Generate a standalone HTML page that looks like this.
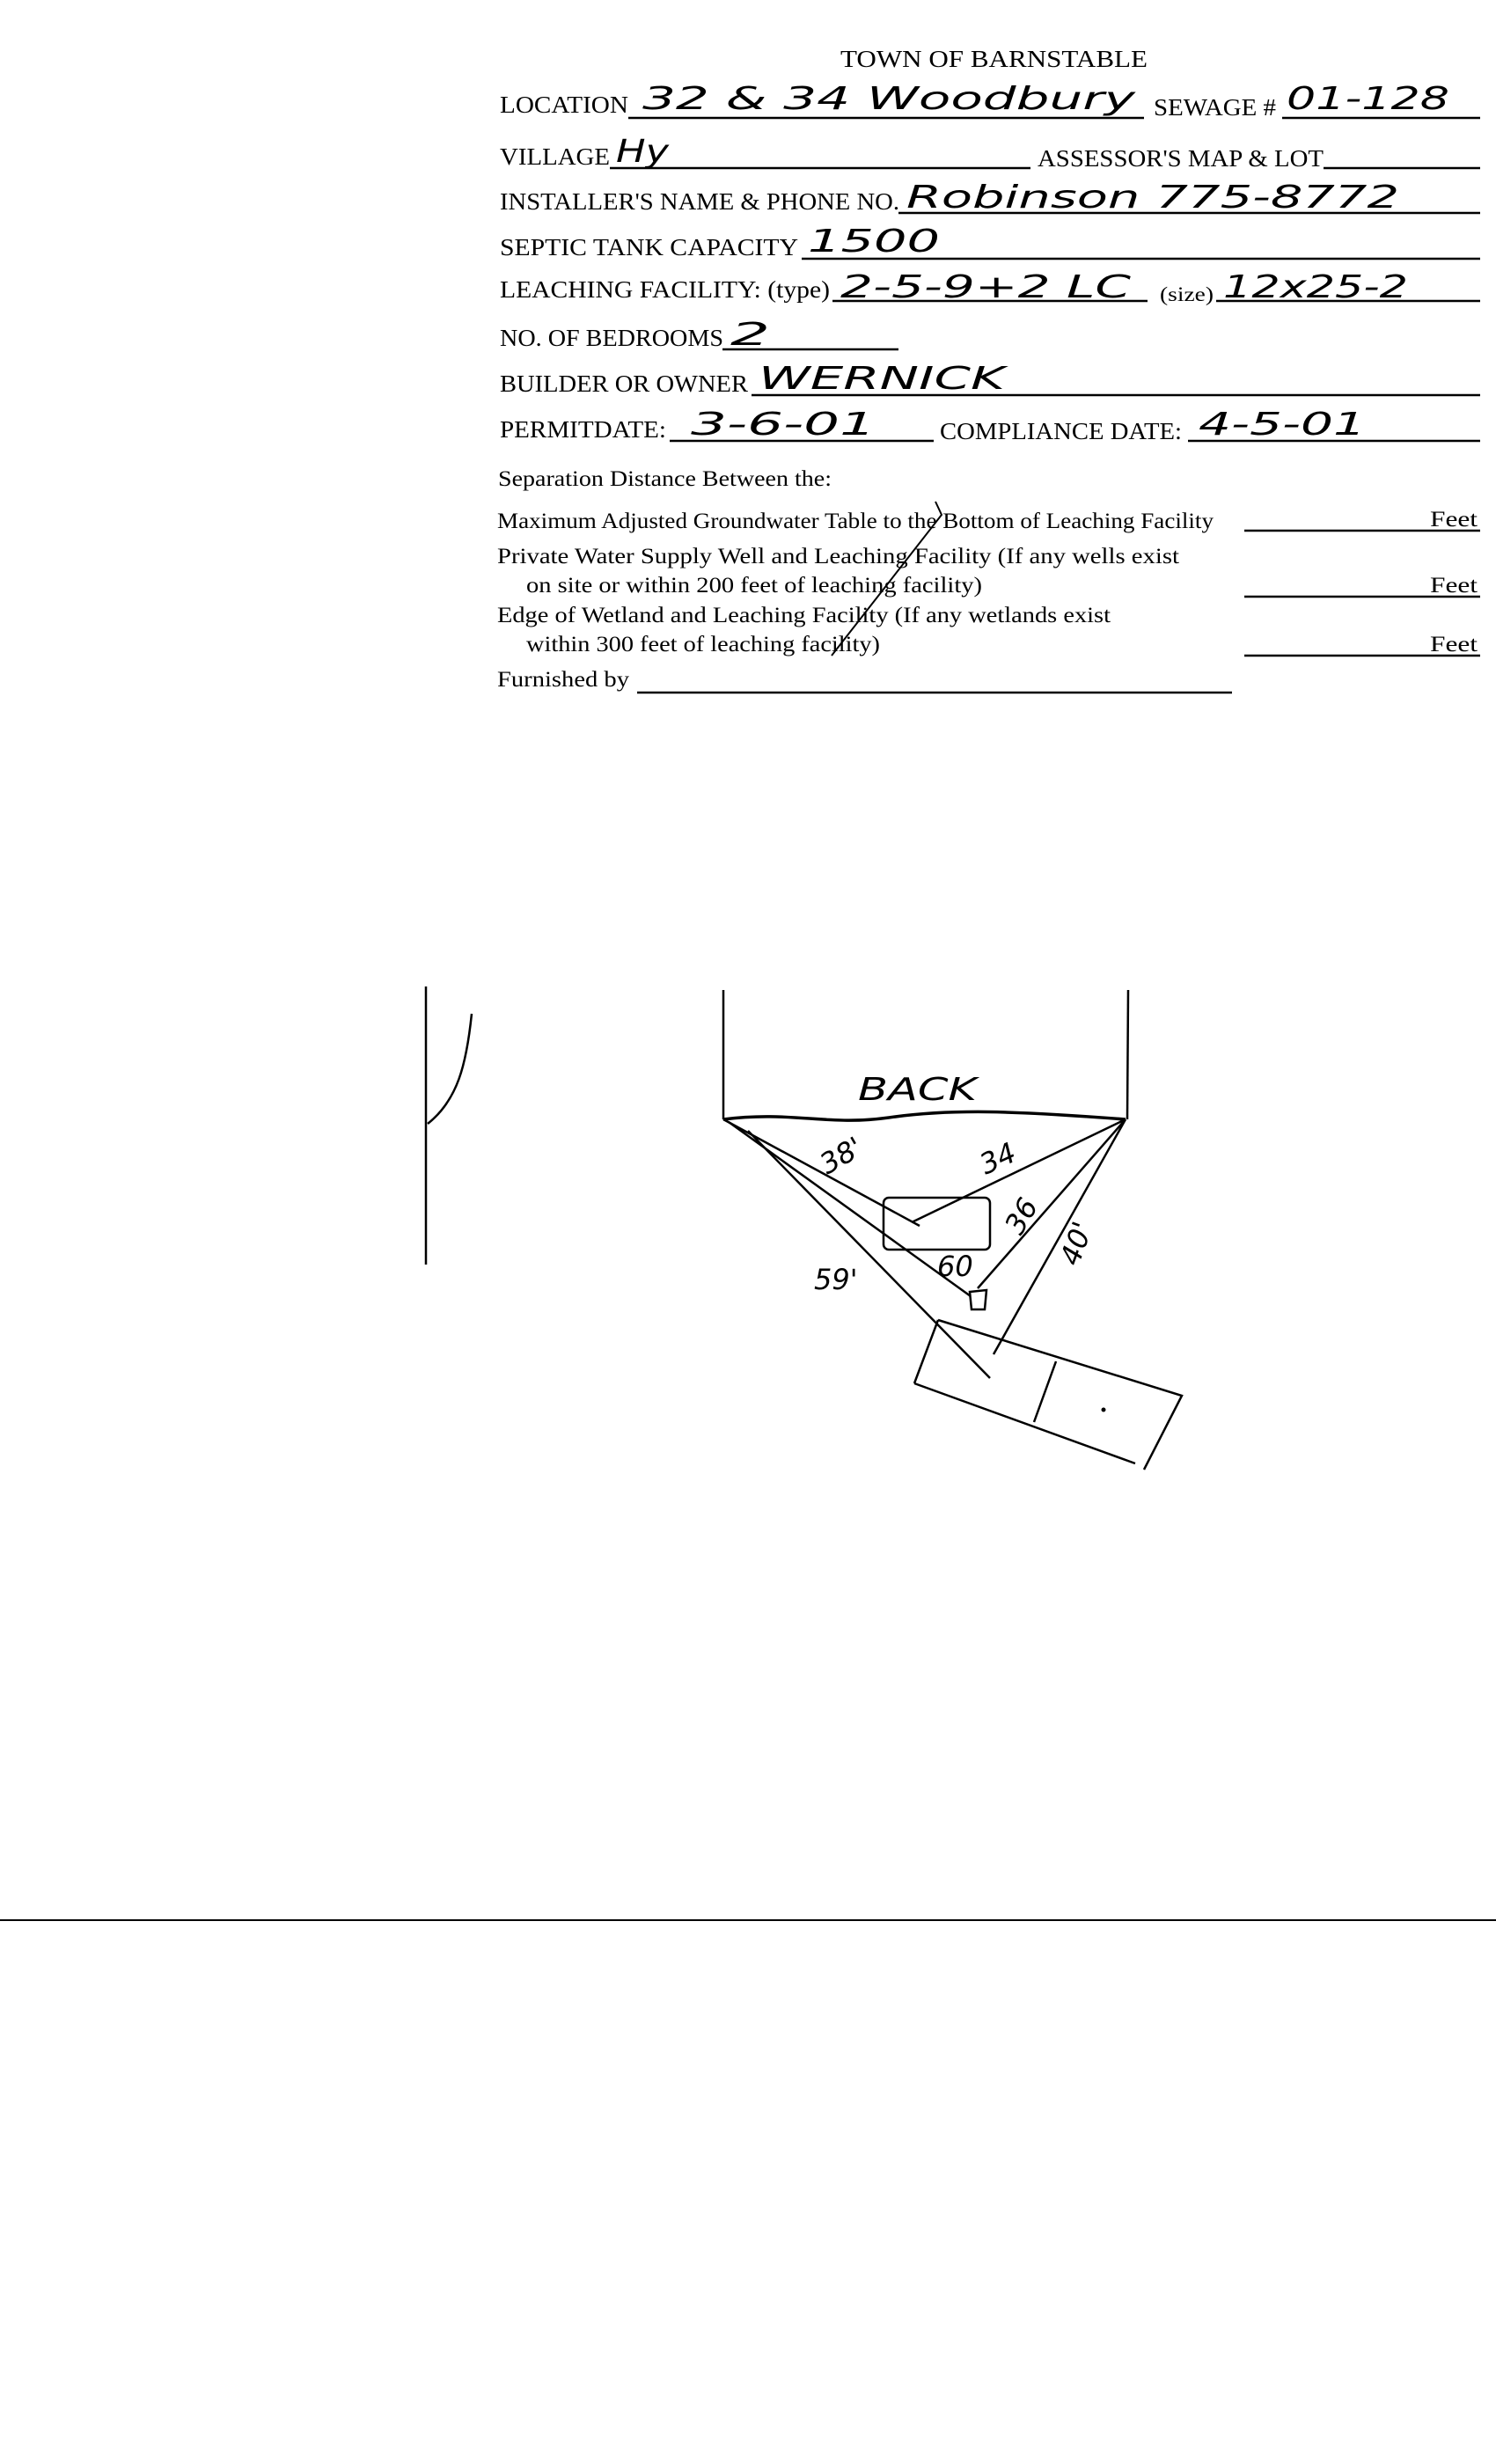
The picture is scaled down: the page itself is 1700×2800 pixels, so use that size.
<!DOCTYPE html>
<html><head><meta charset="utf-8"><style>
html,body{margin:0;padding:0;background:#fff;}
svg{display:block}
.t{font-family:"Liberation Serif",serif;font-size:27px;fill:#000}
.s{font-family:"Liberation Serif",serif;font-size:25px;fill:#000}
.h{font-family:"DejaVu Sans ExtraLight","DejaVu Sans",sans-serif;font-weight:200;font-style:italic;font-size:36px;fill:#000}
</style></head><body>
<svg width="1700" height="2800" viewBox="0 0 1700 2800" xmlns="http://www.w3.org/2000/svg">
<rect width="1700" height="2800" fill="#fff"/>
<g stroke="#000" stroke-width="2.5" fill="none">
<line x1="714" y1="134" x2="1300" y2="134"/><line x1="1457" y1="134" x2="1682" y2="134"/>
<line x1="693" y1="191" x2="1171" y2="191"/><line x1="1504" y1="191" x2="1682" y2="191"/>
<line x1="1021" y1="242" x2="1682" y2="242"/>
<line x1="911" y1="294" x2="1682" y2="294"/>
<line x1="946" y1="342" x2="1304" y2="342"/><line x1="1382" y1="342" x2="1682" y2="342"/>
<line x1="821" y1="397" x2="1021" y2="397"/>
<line x1="854" y1="449" x2="1682" y2="449"/>
<line x1="761" y1="501" x2="1061" y2="501"/><line x1="1350" y1="501" x2="1682" y2="501"/>
<line x1="1414" y1="603" x2="1682" y2="603"/><line x1="1414" y1="678" x2="1682" y2="678"/><line x1="1414" y1="745" x2="1682" y2="745"/>
<line x1="724" y1="787" x2="1400" y2="787"/>
<line x1="0" y1="2182" x2="1700" y2="2182" stroke-width="2"/>
</g>
<text class="t" x="955" y="76" textLength="349" lengthAdjust="spacingAndGlyphs">TOWN OF BARNSTABLE</text>
<text class="t" x="568" y="128" textLength="146" lengthAdjust="spacingAndGlyphs">LOCATION</text>
<text class="t" x="1311" y="131" textLength="139" lengthAdjust="spacingAndGlyphs">SEWAGE #</text>
<text class="t" x="568" y="187" textLength="125" lengthAdjust="spacingAndGlyphs">VILLAGE</text>
<text class="t" x="1179" y="189" textLength="325" lengthAdjust="spacingAndGlyphs">ASSESSOR'S MAP &amp; LOT</text>
<text class="t" x="568" y="238" textLength="454" lengthAdjust="spacingAndGlyphs">INSTALLER'S NAME &amp; PHONE NO.</text>
<text class="t" x="568" y="290" textLength="339" lengthAdjust="spacingAndGlyphs">SEPTIC TANK CAPACITY</text>
<text class="t" x="568" y="338" textLength="375" lengthAdjust="spacingAndGlyphs">LEACHING FACILITY: (type)</text>
<text class="t" x="1318" y="342" textLength="61" lengthAdjust="spacingAndGlyphs" style="font-size:23px">(size)</text>
<text class="t" x="568" y="393" textLength="254" lengthAdjust="spacingAndGlyphs">NO. OF BEDROOMS</text>
<text class="t" x="568" y="445" textLength="282" lengthAdjust="spacingAndGlyphs">BUILDER OR OWNER</text>
<text class="t" x="568" y="497" textLength="189" lengthAdjust="spacingAndGlyphs">PERMITDATE:</text>
<text class="t" x="1068" y="499" textLength="275" lengthAdjust="spacingAndGlyphs">COMPLIANCE DATE:</text>
<text class="s" x="566" y="552" textLength="379" lengthAdjust="spacingAndGlyphs">Separation Distance Between the:</text>
<text class="s" x="565" y="600" textLength="814" lengthAdjust="spacingAndGlyphs">Maximum Adjusted Groundwater Table to the Bottom of Leaching Facility</text>
<text class="s" x="1625" y="598" textLength="54" lengthAdjust="spacingAndGlyphs">Feet</text>
<text class="s" x="565" y="640" textLength="775" lengthAdjust="spacingAndGlyphs">Private Water Supply Well and Leaching Facility  (If any wells exist</text>
<text class="s" x="598" y="673" textLength="518" lengthAdjust="spacingAndGlyphs">on site or within 200 feet of leaching facility)</text>
<text class="s" x="1625" y="673" textLength="54" lengthAdjust="spacingAndGlyphs">Feet</text>
<text class="s" x="565" y="707" textLength="697" lengthAdjust="spacingAndGlyphs">Edge of Wetland and Leaching Facility (If any wetlands exist</text>
<text class="s" x="598" y="740" textLength="402" lengthAdjust="spacingAndGlyphs">within 300 feet of leaching facility)</text>
<text class="s" x="1625" y="740" textLength="54" lengthAdjust="spacingAndGlyphs">Feet</text>
<text class="s" x="565" y="780" textLength="150" lengthAdjust="spacingAndGlyphs">Furnished by</text>
<path d="M1063 570 L1070 585 L945 745" stroke="#000" stroke-width="2" fill="none"/>
<!-- handwriting -->
<text class="h" x="730" y="124" textLength="560" lengthAdjust="spacingAndGlyphs">32 &amp; 34 Woodbury</text>
<text class="h" x="1462" y="124" textLength="185" lengthAdjust="spacingAndGlyphs">01-128</text>
<text class="h" x="700" y="184" textLength="60" lengthAdjust="spacingAndGlyphs">Hy</text>
<text class="h" x="1030" y="236" textLength="560" lengthAdjust="spacingAndGlyphs">Robinson 775-8772</text>
<text class="h" x="918" y="286" textLength="150" lengthAdjust="spacingAndGlyphs">1500</text>
<text class="h" x="955" y="338" textLength="330" lengthAdjust="spacingAndGlyphs">2-5-9+2 LC</text>
<text class="h" x="1390" y="338" textLength="210" lengthAdjust="spacingAndGlyphs">12x25-2</text>
<text class="h" x="830" y="392" textLength="45" lengthAdjust="spacingAndGlyphs">2</text>
<text class="h" x="862" y="442" textLength="280" lengthAdjust="spacingAndGlyphs">WERNICK</text>
<text class="h" x="785" y="494" textLength="210" lengthAdjust="spacingAndGlyphs">3-6-01</text>
<text class="h" x="1362" y="494" textLength="190" lengthAdjust="spacingAndGlyphs">4-5-01</text>
<!-- sketch -->
<g stroke="#000" stroke-width="2.5" fill="none">
<line x1="484" y1="1121" x2="484" y2="1437"/>
<path d="M536 1152 C530 1210 520 1250 486 1277"/>
<line x1="822" y1="1125" x2="822" y2="1272"/>
<line x1="1282" y1="1125" x2="1281" y2="1272"/>
<path d="M822 1272 C900 1262 940 1280 1010 1270 S1150 1262 1279 1272" stroke-width="3.5"/>
<line x1="822" y1="1272" x2="1045" y2="1393"/>
<line x1="828" y1="1275" x2="1103" y2="1473"/>
<line x1="850" y1="1285" x2="1125" y2="1566"/>
<line x1="1279" y1="1272" x2="1036" y2="1389"/>
<line x1="1279" y1="1272" x2="1111" y2="1464"/>
<line x1="1279" y1="1272" x2="1129" y2="1539"/>
<rect x="1004" y="1361" width="121" height="59" rx="6"/>
<path d="M1102 1468 L1121 1466 L1119 1488 L1104 1488 Z"/>
<path d="M1066 1500 L1343 1586 L1300 1670 M1039 1572 L1066 1500 M1039 1572 L1290 1663"/>
<line x1="1200" y1="1547" x2="1175" y2="1616"/>
</g>
<circle cx="1254" cy="1602" r="2.5" fill="#000"/>
<text class="h" x="975" y="1250" textLength="135" lengthAdjust="spacingAndGlyphs">BACK</text>
<text class="h" x="940" y="1335" transform="rotate(-30 940 1335)" style="font-size:32px">38'</text>
<text class="h" x="1120" y="1335" transform="rotate(-25 1120 1335)" style="font-size:32px">34</text>
<text class="h" x="1160" y="1405" transform="rotate(-60 1160 1405)" style="font-size:32px">36</text>
<text class="h" x="1225" y="1440" transform="rotate(-70 1225 1440)" style="font-size:32px">40'</text>
<text class="h" x="925" y="1465" style="font-size:32px">59'</text>
<text class="h" x="1065" y="1450" style="font-size:32px">60</text>
</svg>
</body></html>
